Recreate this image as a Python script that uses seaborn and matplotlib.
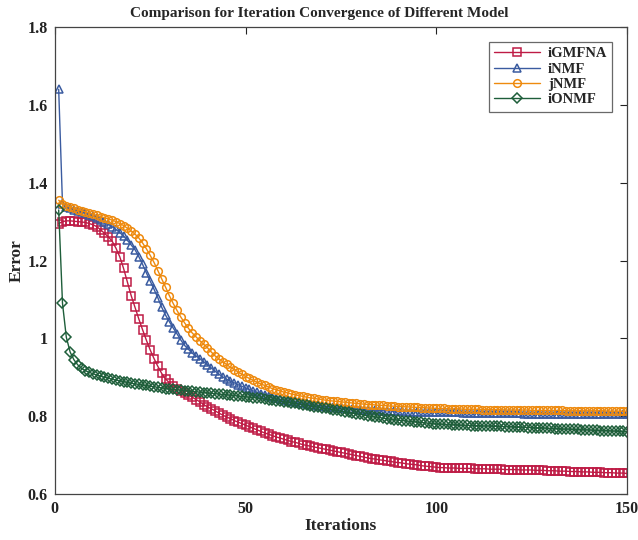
import numpy as np
import pandas as pd
import seaborn as sns
import matplotlib
matplotlib.use("Agg")
import matplotlib.pyplot as plt

# Error per iteration, iterations 1..150
iterations = list(range(1, 151))

igmfna = [
    1.295, 1.300, 1.302, 1.302, 1.301, 1.300, 1.299, 1.298, 1.295, 1.292,
    1.287, 1.279, 1.270, 1.261, 1.250, 1.232, 1.210, 1.180, 1.145, 1.110,
    1.080, 1.050, 1.022, 0.995, 0.970, 0.948, 0.928, 0.910, 0.896, 0.886,
    0.878, 0.871, 0.865, 0.860, 0.855, 0.849, 0.843, 0.837, 0.830, 0.824,
    0.819, 0.814, 0.808, 0.803, 0.798, 0.794, 0.789, 0.785, 0.781, 0.777,
    0.773, 0.769, 0.765, 0.761, 0.757, 0.754, 0.750, 0.747, 0.744, 0.741,
    0.738, 0.735, 0.733, 0.730, 0.727, 0.725, 0.723, 0.721, 0.719, 0.717,
    0.715, 0.713, 0.711, 0.709, 0.707, 0.705, 0.703, 0.701, 0.699, 0.697,
    0.695, 0.693, 0.691, 0.690, 0.688, 0.687, 0.685, 0.684, 0.682, 0.681,
    0.680, 0.678, 0.677, 0.676, 0.675, 0.673, 0.672, 0.671, 0.670, 0.669,
    0.668, 0.668, 0.667, 0.667, 0.667, 0.666, 0.666, 0.666, 0.666, 0.665,
    0.665, 0.665, 0.665, 0.664, 0.664, 0.664, 0.664, 0.663, 0.663, 0.663,
    0.663, 0.662, 0.662, 0.662, 0.662, 0.661, 0.661, 0.661, 0.660, 0.660,
    0.660, 0.659, 0.659, 0.659, 0.658, 0.658, 0.658, 0.657, 0.657, 0.657,
    0.656, 0.656, 0.656, 0.655, 0.655, 0.655, 0.654, 0.654, 0.654, 0.653,
]

inmf = [
    1.640, 1.345, 1.338, 1.334, 1.331, 1.328, 1.325, 1.322, 1.318, 1.314,
    1.310, 1.305, 1.299, 1.293, 1.287, 1.280, 1.272, 1.263, 1.252, 1.240,
    1.228, 1.210, 1.190, 1.168, 1.147, 1.126, 1.104, 1.080, 1.060, 1.043,
    1.027, 1.012, 0.996, 0.982, 0.972, 0.962, 0.955, 0.948, 0.940, 0.932,
    0.924, 0.916, 0.908, 0.901, 0.895, 0.890, 0.886, 0.881, 0.877, 0.873,
    0.869, 0.865, 0.862, 0.858, 0.855, 0.852, 0.849, 0.847, 0.844, 0.842,
    0.840, 0.838, 0.836, 0.834, 0.833, 0.831, 0.830, 0.828, 0.827, 0.826,
    0.825, 0.824, 0.823, 0.822, 0.821, 0.820, 0.819, 0.819, 0.818, 0.817,
    0.817, 0.816, 0.816, 0.815, 0.815, 0.814, 0.814, 0.814, 0.813, 0.813,
    0.813, 0.812, 0.812, 0.812, 0.812, 0.811, 0.811, 0.811, 0.811, 0.811,
    0.810, 0.810, 0.810, 0.810, 0.810, 0.810, 0.809, 0.809, 0.809, 0.809,
    0.809, 0.809, 0.809, 0.808, 0.808, 0.808, 0.808, 0.808, 0.808, 0.808,
    0.808, 0.808, 0.807, 0.807, 0.807, 0.807, 0.807, 0.807, 0.807, 0.807,
    0.807, 0.807, 0.807, 0.806, 0.806, 0.806, 0.806, 0.806, 0.806, 0.806,
    0.806, 0.806, 0.806, 0.806, 0.806, 0.806, 0.806, 0.806, 0.806, 0.806,
]

jnmf = [
    1.355, 1.346, 1.341, 1.337, 1.334, 1.331, 1.328, 1.325, 1.322, 1.319,
    1.316, 1.313, 1.310, 1.307, 1.304, 1.300, 1.295, 1.290, 1.283, 1.276,
    1.268, 1.258, 1.245, 1.230, 1.213, 1.195, 1.174, 1.153, 1.132, 1.110,
    1.090, 1.072, 1.055, 1.040, 1.026, 1.014, 1.004, 0.994, 0.985, 0.976,
    0.965, 0.955, 0.947, 0.940, 0.933, 0.926, 0.920, 0.914, 0.908, 0.902,
    0.897, 0.892, 0.887, 0.883, 0.879, 0.875, 0.871, 0.868, 0.865, 0.862,
    0.860, 0.857, 0.855, 0.853, 0.851, 0.849, 0.847, 0.846, 0.844, 0.843,
    0.841, 0.840, 0.839, 0.838, 0.837, 0.836, 0.835, 0.834, 0.833, 0.832,
    0.831, 0.830, 0.830, 0.829, 0.828, 0.828, 0.827, 0.826, 0.826, 0.825,
    0.825, 0.824, 0.824, 0.823, 0.823, 0.822, 0.822, 0.821, 0.821, 0.820,
    0.820, 0.820, 0.819, 0.819, 0.819, 0.819, 0.818, 0.818, 0.818, 0.818,
    0.818, 0.817, 0.817, 0.817, 0.817, 0.817, 0.817, 0.816, 0.816, 0.816,
    0.816, 0.816, 0.816, 0.816, 0.815, 0.815, 0.815, 0.815, 0.815, 0.815,
    0.815, 0.815, 0.815, 0.814, 0.814, 0.814, 0.814, 0.814, 0.814, 0.814,
    0.814, 0.814, 0.814, 0.814, 0.813, 0.813, 0.813, 0.813, 0.813, 0.813,
]

ionmf = [
    1.330, 1.090, 1.003, 0.965, 0.945, 0.932, 0.923, 0.917, 0.913, 0.909,
    0.906, 0.903, 0.900, 0.898, 0.895, 0.893, 0.891, 0.889, 0.887, 0.885,
    0.883, 0.882, 0.880, 0.879, 0.877, 0.876, 0.874, 0.873, 0.871, 0.870,
    0.869, 0.868, 0.867, 0.866, 0.865, 0.864, 0.863, 0.862, 0.861, 0.860,
    0.859, 0.858, 0.857, 0.856, 0.855, 0.854, 0.853, 0.852, 0.851, 0.850,
    0.849, 0.848, 0.847, 0.846, 0.844, 0.843, 0.842, 0.840, 0.839, 0.837,
    0.836, 0.834, 0.833, 0.831, 0.830, 0.828, 0.826, 0.825, 0.823, 0.821,
    0.820, 0.818, 0.816, 0.815, 0.813, 0.811, 0.810, 0.808, 0.806, 0.805,
    0.803, 0.801, 0.800, 0.798, 0.797, 0.795, 0.794, 0.792, 0.791, 0.790,
    0.789, 0.788, 0.787, 0.786, 0.785, 0.784, 0.783, 0.782, 0.781, 0.780,
    0.780, 0.779, 0.779, 0.778, 0.778, 0.777, 0.777, 0.777, 0.776, 0.776,
    0.776, 0.775, 0.775, 0.775, 0.774, 0.774, 0.774, 0.773, 0.773, 0.773,
    0.772, 0.772, 0.772, 0.771, 0.771, 0.770, 0.770, 0.770, 0.769, 0.769,
    0.768, 0.768, 0.767, 0.767, 0.767, 0.766, 0.766, 0.765, 0.765, 0.765,
    0.764, 0.764, 0.763, 0.763, 0.763, 0.762, 0.762, 0.761, 0.761, 0.760,
]

model_names = ["iGMFNA", "iNMF", "jNMF", "iONMF"]
colors = ["#BE1B45", "#3A5BA0", "#EE8A0E", "#1E5E3A"]
markers = ["s", "^", "o", "D"]

df = pd.DataFrame({
    "Iterations": iterations * 4,
    "Error": igmfna + inmf + jnmf + ionmf,
    "Model": [m for m in model_names for _ in iterations],
})

sns.set_style("white")
plt.rcParams["font.family"] = ["Liberation Serif", "DejaVu Serif"]
plt.rcParams["font.weight"] = "bold"

fig, ax = plt.subplots(figsize=(6.38, 5.4), dpi=100)
fig.subplots_adjust(left=0.086, right=0.983, top=0.95, bottom=0.085)

for name, col, mk in zip(model_names, colors, markers):
    sub = df[df["Model"] == name]
    sns.lineplot(
        data=sub, x="Iterations", y="Error", ax=ax,
        color=col, linewidth=1.0, label=name,
        marker=mk, markersize=5.5 if mk != "D" else 5,
        markerfacecolor="none", markeredgecolor=col, markeredgewidth=1.1,
    )

ax.set_xlim(0, 150)
ax.set_ylim(0.6, 1.8)
ax.set_xticks([0, 50, 100, 150])
ax.set_yticks([0.6, 0.8, 1.0, 1.2, 1.4, 1.6, 1.8])
ax.set_yticklabels(["0.6", "0.8", "1", "1.2", "1.4", "1.6", "1.8"])
ax.tick_params(direction="in", length=5, width=0.8, top=True, right=True,
               labelsize=11.5, colors="#222222", pad=5)
for lab in ax.get_xticklabels() + ax.get_yticklabels():
    lab.set_fontweight("bold")
for sp in ax.spines.values():
    sp.set_color("#444444")
    sp.set_linewidth(0.9)

ax.set_xlabel("Iterations", fontsize=12.5, fontweight="bold", labelpad=1)
ax.set_ylabel("Error", fontsize=12.5, fontweight="bold", labelpad=2)
fig.text(0.5, 0.975, "Comparison for Iteration Convergence of Different Model",
         ha="center", va="center", fontsize=11, fontweight="bold")

leg = ax.legend(loc="upper right", bbox_to_anchor=(0.974, 0.968),
                borderaxespad=0.0,
                frameon=True, fancybox=False, edgecolor="#444444",
                fontsize=10.5, handlelength=3.2, borderpad=0.35,
                labelspacing=0.15, handletextpad=0.5)
leg.get_frame().set_linewidth(0.9)
for t in leg.get_texts():
    t.set_fontweight("bold")

fig.savefig("out.png", dpi=100)
